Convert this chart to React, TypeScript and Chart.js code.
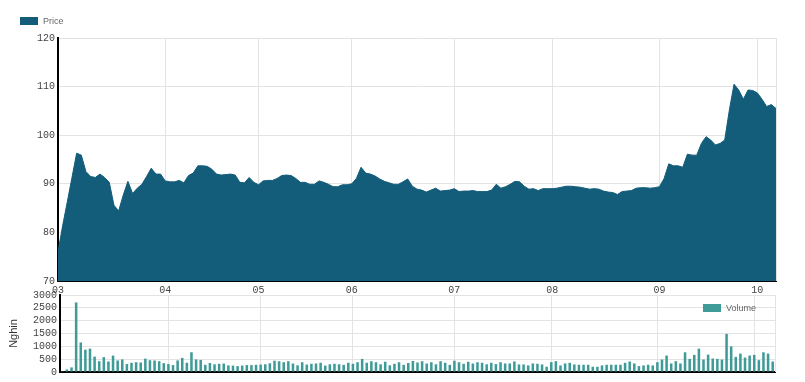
import React, { useEffect, useRef } from 'react';
import { Chart, registerables } from 'chart.js';

Chart.register(...registerables);

const monthLabels = ['03', '04', '05', '06', '07', '08', '09', '10'];
const monthStartIdx = [0, 23, 43, 63, 85, 106, 129, 150];

const price = [
  76.0, 81.4, 86.3, 91.3, 96.3, 95.9, 92.5, 91.5, 91.3, 92.0,
  91.3, 90.3, 85.6, 84.4, 87.7, 90.5, 88.0, 89.1, 89.9, 91.5,
  93.2, 92.0, 92.0, 90.6, 90.4, 90.4, 90.7, 90.2, 91.7, 92.2,
  93.7, 93.7, 93.6, 93.0, 92.0, 91.8, 91.9, 92.0, 91.8, 90.3,
  90.2, 91.3, 90.3, 89.8, 90.6, 90.7, 90.7, 91.1, 91.7, 91.8,
  91.7, 91.1, 90.3, 90.3, 89.9, 89.9, 90.6, 90.3, 89.9, 89.4,
  89.4, 89.8, 89.8, 90.0, 91.1, 93.4, 92.2, 92.0, 91.6, 91.0,
  90.5, 90.2, 89.9, 89.9, 90.4, 91.0, 89.5, 88.9, 88.7, 88.3,
  88.7, 89.1, 88.5, 88.6, 88.7, 89.0, 88.4, 88.5, 88.5, 88.6,
  88.4, 88.4, 88.4, 88.7, 89.9, 89.1, 89.4, 89.9, 90.5, 90.4,
  89.5, 88.9, 89.0, 88.6, 89.0, 89.0, 89.0, 89.1, 89.3, 89.5,
  89.5, 89.4, 89.3, 89.1, 88.9, 89.0, 88.9, 88.5, 88.3, 88.2,
  87.8, 88.4, 88.5, 88.6, 89.1, 89.2, 89.2, 89.1, 89.2, 89.4,
  91.1, 94.1, 93.7, 93.7, 93.4, 96.1, 95.9, 95.9, 98.3, 99.7,
  99.0, 98.0, 98.3, 99.0, 105.2, 110.5, 109.3, 107.4, 109.3, 109.2,
  108.7, 107.4, 105.9, 106.3, 105.5,
];

const volume = [
  30, 100, 180, 2710, 1150, 870, 910, 600, 420, 580,
  410, 640, 450, 490, 310, 360, 380, 370, 520, 460,
  450, 420, 345, 310, 270, 450, 550, 360, 770, 490,
  470, 280, 350, 300, 320, 330, 260, 250, 230, 250,
  270, 270, 280, 290, 300, 340, 440, 420, 380, 420,
  330, 260, 380, 290, 320, 330, 360, 250, 300, 320,
  300, 280, 360, 320, 380, 510, 360, 420, 380, 300,
  400, 260, 320, 380, 280, 350, 430, 370, 420, 330,
  380, 300, 420, 360, 280, 440, 380, 320, 400, 330,
  380, 360, 300, 360, 310, 380, 333, 333, 410, 294,
  294, 256, 333, 320, 294, 205, 384, 422, 256, 333,
  358, 294, 282, 282, 282, 205, 205, 256, 282, 282,
  282, 282, 358, 410, 333, 230, 256, 282, 256, 384,
  486, 640, 333, 422, 333, 768, 512, 666, 909, 486,
  678, 525, 512, 486, 1485, 998, 589, 717, 563, 640,
  666, 461, 768, 717, 410,
];

const priceTicks = [70, 80, 90, 100, 110, 120];
const volumeTicks = [0, 500, 1000, 1500, 2000, 2500, 3000];

const dayLabels = price.map((_, i) => String(i));

const PRICE_COLOR = '#135d7a';
const VOLUME_COLOR = '#3f9b97';
const GRID = '#e3e3e3';
const TICK_COLOR = '#444';
const TICK_FONT = { family: '"Liberation Mono", "Courier New", monospace', size: 10 };
const LABEL_FONT = '9px "Liberation Sans", Arial, sans-serif';

function decorPlugin(id: string, label: string, color: string, bx: number, by: number) {
  return {
    id,
    afterDraw(chart: any) {
      const ctx = chart.ctx;
      const a = chart.chartArea;
      ctx.save();
      ctx.strokeStyle = GRID;
      ctx.lineWidth = 1;
      ctx.beginPath();
      ctx.moveTo(Math.round(a.right) + 0.5, a.top);
      ctx.lineTo(Math.round(a.right) + 0.5, a.bottom);
      ctx.stroke();
      ctx.fillStyle = color;
      ctx.fillRect(bx, by, 18, 8);
      ctx.fillStyle = '#666';
      ctx.font = LABEL_FONT;
      ctx.textBaseline = 'middle';
      ctx.textAlign = 'left';
      ctx.fillText(label, bx + 23, by + 4.5);
      ctx.restore();
    },
  };
}

export default function App() {
  const topRef = useRef<HTMLCanvasElement>(null);
  const botRef = useRef<HTMLCanvasElement>(null);

  useEffect(() => {
    const top = new Chart(topRef.current as HTMLCanvasElement, {
      type: 'line',
      data: {
        labels: dayLabels,
        datasets: [
          {
            label: 'Price',
            data: price,
            fill: 'start',
            backgroundColor: PRICE_COLOR,
            borderColor: PRICE_COLOR,
            borderWidth: 1,
            pointRadius: 0,
            tension: 0,
          },
        ],
      },
      options: {
        animation: false,
        responsive: false,
        devicePixelRatio: 1,
        layout: { padding: { top: 38, right: 29, left: 0, bottom: 0 } },
        plugins: { legend: { display: false }, tooltip: { enabled: false } },
        scales: {
          x: {
            type: 'category',
            offset: false,
            afterBuildTicks: (s: any) => {
              s.ticks = monthStartIdx.map((v) => ({ value: v }));
            },
            afterFit: (s: any) => {
              s.height = 19;
            },
            ticks: {
              autoSkip: false,
              maxRotation: 0,
              padding: 3,
              font: TICK_FONT,
              color: TICK_COLOR,
              callback: (v: any) => {
                const k = monthStartIdx.indexOf(Number(v));
                return k >= 0 ? monthLabels[k] : '';
              },
            },
            grid: { color: GRID, drawTicks: false },
            border: { color: '#000', width: 2 },
          },
          y: {
            min: priceTicks[0],
            max: priceTicks[priceTicks.length - 1],
            afterBuildTicks: (s: any) => {
              s.ticks = priceTicks.map((v) => ({ value: v }));
            },
            ticks: {
              autoSkip: false,
              padding: 3,
              font: TICK_FONT,
              color: TICK_COLOR,
              callback: (v: any) => String(v),
            },
            grid: { color: GRID, drawTicks: false },
            border: { color: '#000', width: 2 },
            afterFit: (s: any) => {
              s.width = 58;
            },
          },
        },
      },
      plugins: [decorPlugin('priceDecor', 'Price', PRICE_COLOR, 20, 17)],
    } as any);

    const bot = new Chart(botRef.current as HTMLCanvasElement, {
      type: 'bar',
      data: {
        labels: dayLabels,
        datasets: [
          {
            label: 'Volume',
            data: volume,
            backgroundColor: VOLUME_COLOR,
            barPercentage: 0.55,
            categoryPercentage: 1,
          },
        ],
      },
      options: {
        animation: false,
        responsive: false,
        devicePixelRatio: 1,
        layout: { padding: { top: 13, right: 30, left: 0, bottom: 10 } },
        plugins: { legend: { display: false }, tooltip: { enabled: false } },
        scales: {
          x: {
            type: 'category',
            offset: true,
            afterBuildTicks: (s: any) => {
              s.ticks = monthStartIdx.slice(1).map((v) => ({ value: v }));
            },
            afterFit: (s: any) => {
              s.height = 0;
            },
            ticks: { display: false, autoSkip: false },
            grid: { color: GRID, drawTicks: false, offset: false },
            border: { color: '#000', width: 2 },
          },
          y: {
            min: volumeTicks[0],
            max: volumeTicks[volumeTicks.length - 1],
            afterBuildTicks: (s: any) => {
              s.ticks = volumeTicks.map((v) => ({ value: v }));
            },
            ticks: {
              autoSkip: false,
              padding: 3,
              font: TICK_FONT,
              color: TICK_COLOR,
              callback: (v: any) => String(v),
            },
            grid: { color: GRID, drawTicks: false },
            border: { color: '#000', width: 2 },
            title: {
              display: true,
              text: 'Nghin',
              color: '#333',
              font: { family: '"Liberation Sans", Arial, sans-serif', size: 11 },
              padding: { top: 7, bottom: 0 },
            },
            afterFit: (s: any) => {
              s.width = 60;
            },
          },
        },
      },
      plugins: [decorPlugin('volDecor', 'Volume', VOLUME_COLOR, 703, 22)],
    } as any);

    return () => {
      top.destroy();
      bot.destroy();
    };
  }, []);

  return (
    <div style={{ position: 'fixed', left: 0, top: 0, width: 805, height: 382, background: '#fff' }}>
      <canvas
        ref={topRef}
        width={805}
        height={300}
        style={{ position: 'absolute', left: 0, top: 0, width: 805, height: 300 }}
      />
      <canvas
        ref={botRef}
        width={805}
        height={100}
        style={{ position: 'absolute', left: 0, top: 282, width: 805, height: 100 }}
      />
    </div>
  );
}
